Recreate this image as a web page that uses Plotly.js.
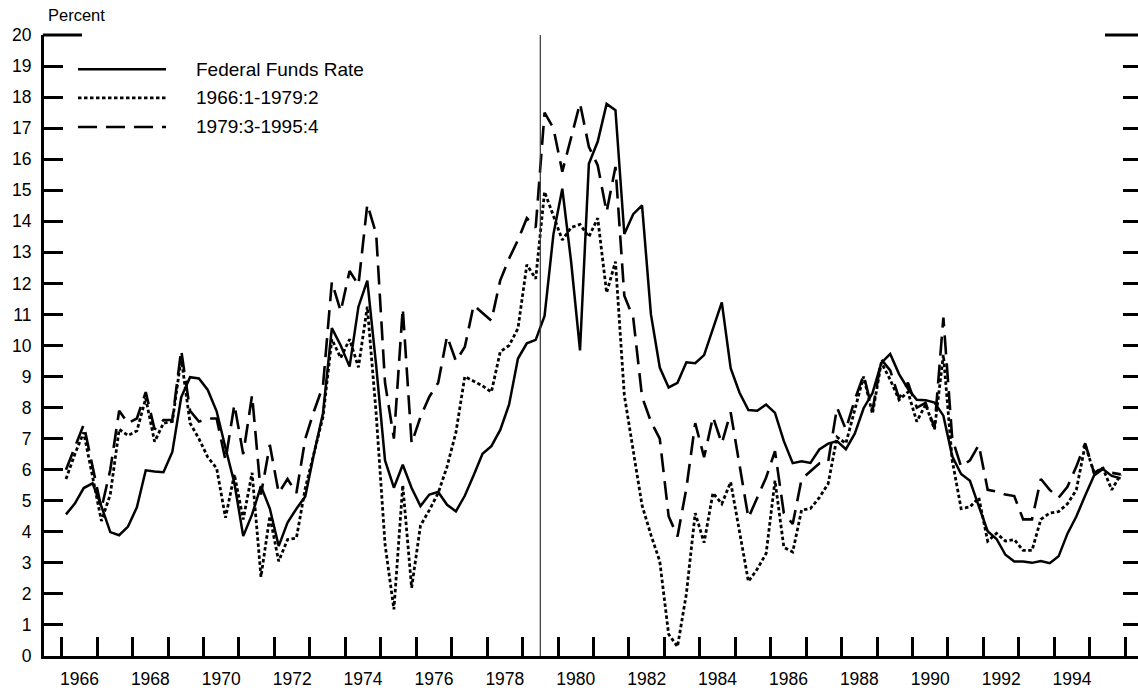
<!DOCTYPE html>
<html>
<head>
<meta charset="utf-8">
<script src="https://cdn.plot.ly/plotly-3.0.1.min.js"></script>
<style>html,body{margin:0;padding:0;background:#fff;}#chart{width:1138px;height:691px;}</style>
</head>
<body>
<div id="chart"></div>
<script>
// Quarterly data, 1966:1 - 1995:4
const startYear = 1966;
const fedFunds = [4.56,4.91,5.41,5.56, 4.82,3.99,3.89,4.17, 4.79,5.98,5.94,5.92, 6.57,8.33,8.98,8.94,
  8.57,7.88,6.70,5.57, 3.86,4.56,5.47,4.75, 3.54,4.30,4.74,5.14, 6.54,7.82,10.56,10.00,
  9.32,11.25,12.09,9.35, 6.30,5.42,6.16,5.41, 4.83,5.20,5.28,4.87, 4.66,5.16,5.82,6.51,
  6.76,7.28,8.10,9.58, 10.07,10.18,10.95,13.58, 15.05,12.69,9.84,15.85, 16.57,17.78,17.58,13.59,
  14.23,14.51,11.01,9.29, 8.65,8.80,9.46,9.43, 9.69,10.56,11.39,9.27, 8.48,7.92,7.90,8.10,
  7.83,6.92,6.21,6.27, 6.22,6.65,6.84,6.92, 6.66,7.16,7.98,8.47, 9.44,9.73,9.08,8.61,
  8.25,8.24,8.16,7.74, 6.43,5.86,5.64,4.82, 4.02,3.77,3.26,3.04, 3.04,3.00,3.06,2.99,
  3.21,3.94,4.49,5.17, 5.81,6.02,5.80,5.72];
const rule1966 = [5.7,6.5,7.2,5.8, 4.35,5.2,7.3,7.1, 7.25,8.3,6.9,7.5, 7.55,9.6,7.5,7.0,
  6.4,6.05,4.45,5.85, 4.4,5.9,2.55,4.5, 3.05,3.75,3.8,5.4, 6.6,7.7,10.2,9.6,
  10.2,9.3,11.25,7.8, 3.6,1.5,5.5,2.2, 4.2,4.7,5.25,6.1, 7.2,9.0,8.85,8.7,
  8.5,9.8,10.0,10.55, 12.6,12.15,14.95,14.2, 13.4,13.8,13.9,13.5, 14.1,11.7,12.7,8.4,
  6.6,4.85,3.9,3.05, 0.7,0.3,2.0,4.6, 3.65,5.25,4.9,5.6, 4.0,2.4,2.8,3.3,
  5.65,3.5,3.35,4.7, 4.75,5.1,5.55,7.05, 6.85,7.9,9.0,7.8, 9.45,8.9,8.25,8.5,
  7.55,8.1,7.3,9.7, 6.3,4.75,4.8,5.1, 3.7,3.95,3.7,3.75, 3.4,3.4,4.4,4.6,
  4.65,4.9,5.35,6.8, 5.9,6.05,5.35,5.85];
const rule1979 = [6.0,6.7,7.45,6.1, 4.75,6.0,7.9,7.5, 7.65,8.5,7.3,7.6, 7.6,9.85,7.9,7.55,
  7.65,7.65,6.3,8.1, 6.5,8.4,5.2,6.8, 5.25,5.7,5.25,7.0, 7.9,8.7,12.05,11.1,
  12.4,11.95,14.55,13.6, 8.8,7.0,11.2,6.85, 7.7,8.35,8.8,10.3, 9.5,9.95,11.3,11.05,
  10.8,12.1,12.8,13.4, 14.1,13.8,17.5,17.0, 15.6,16.7,17.8,16.4, 15.8,14.3,15.75,11.6,
  10.9,8.35,7.55,7.0, 4.5,3.85,5.4,7.5, 6.4,7.7,6.85,7.85, 6.2,4.45,5.1,5.75,
  6.6,4.6,4.25,5.7, 5.95,6.2,6.25,8.0, 7.3,8.25,9.05,7.9, 9.55,9.2,8.3,8.8,
  8.0,8.15,7.35,10.9, 7.0,6.1,6.3,6.8, 5.35,5.3,5.2,5.15, 4.4,4.4,5.7,5.35,
  5.1,5.45,6.1,6.85, 5.9,6.05,5.9,5.85];
const seriesNames = ['Federal Funds Rate', '1966:1-1979:2', '1979:3-1995:4'];
const tickYears = ['1966','1968','1970','1972','1974','1976','1978','1980','1982','1984','1986','1988','1990','1992','1994'];
const breakDate = 1979.5; // 1979:3
const yTitle = 'Percent';

const FONT = 'Arial, "Liberation Sans", Helvetica, sans-serif';
const xq = fedFunds.map((_, i) => startYear + i / 4 + 0.12);

const dashDot = '3.5px,2.5px';
const dashLong = '19px,9px';

const traces = [
  {x: xq, y: fedFunds, name: seriesNames[0], mode: 'lines', line: {color: '#000', width: 2.5}},
  {x: xq, y: rule1966, name: seriesNames[1], mode: 'lines', line: {color: '#000', width: 2.8, dash: dashDot}},
  {x: xq, y: rule1979, name: seriesNames[2], mode: 'lines', line: {color: '#000', width: 2.6, dash: dashLong}},
  {x: [null], y: [null], yaxis: 'y2', showlegend: false, hoverinfo: 'skip', mode: 'lines'}
];

const px = v => (v - 44) / 1094;
const legY = [0.945, 0.8986, 0.8519];
const legDash = ['solid', dashDot, dashLong];
const legW = [2.5, 2.8, 2.6];

const shapes = [
  {type: 'line', xref: 'x', yref: 'y', x0: breakDate, x1: breakDate, y0: 0, y1: 20, line: {color: '#333', width: 1.2}},
  {type: 'line', xref: 'paper', yref: 'paper', x0: -0.001, x1: px(82), y0: 1, y1: 1, line: {color: '#000', width: 3}},
  {type: 'line', xref: 'paper', yref: 'paper', x0: px(1105), x1: 1.01, y0: 1, y1: 1, line: {color: '#000', width: 3}}
];
const annotations = [
  {xref: 'paper', yref: 'paper', x: px(46), y: 1, xanchor: 'left', yanchor: 'middle', yshift: 20, showarrow: false,
   text: yTitle, font: {family: FONT, size: 16.5, color: '#000'}}
];
seriesNames.forEach((n, k) => {
  shapes.push({type: 'line', xref: 'paper', yref: 'paper', x0: px(78), x1: px(166), y0: legY[k], y1: legY[k],
    line: {color: '#000', width: legW[k], dash: legDash[k]}});
  annotations.push({xref: 'paper', yref: 'paper', x: px(194), y: legY[k], xanchor: 'left', yanchor: 'middle',
    showarrow: false, text: n, font: {family: FONT, size: 19, color: '#000'}});
});

const layout = {
  width: 1138, height: 691,
  margin: {l: 44, r: 0, t: 35, b: 35},
  paper_bgcolor: '#fff', plot_bgcolor: '#fff',
  showlegend: false,
  font: {family: FONT, color: '#000'},
  xaxis: {
    range: [1965.5, 1996.36], showgrid: false, zeroline: false,
    showline: true, linewidth: 3, linecolor: '#000',
    tickmode: 'array', tickvals: tickYears.map(t => +t + 0.5), ticktext: tickYears, ticks: '',
    tickfont: {family: FONT, size: 17.5, color: '#000'}, ticklabelstandoff: 5,
    minor: {tickmode: 'linear', tick0: startYear, dtick: 1, ticks: 'inside', ticklen: 19, tickwidth: 3, tickcolor: '#000', showgrid: false}
  },
  yaxis: {
    range: [0, 20], tick0: 0, dtick: 1, ticks: 'inside', ticklen: 19, tickwidth: 3, tickcolor: '#000',
    showline: true, linewidth: 3, linecolor: '#000', showgrid: false, zeroline: false,
    tickfont: {family: FONT, size: 17.5, color: '#000'}, ticklabelstandoff: 6
  },
  yaxis2: {
    overlaying: 'y', side: 'right', range: [0, 20], tick0: 0, dtick: 1, ticks: 'inside', ticklen: 15,
    tickwidth: 3, tickcolor: '#000', showticklabels: false, showline: false, showgrid: false, zeroline: false
  },
  shapes: shapes,
  annotations: annotations
};

Plotly.newPlot('chart', traces, layout, {displayModeBar: false, staticPlot: true});
</script>
</body>
</html>
